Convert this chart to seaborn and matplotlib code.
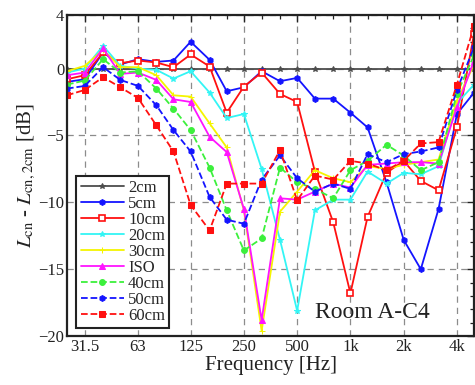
import matplotlib
matplotlib.use('Agg')
import matplotlib.pyplot as plt
import seaborn as sns
import numpy as np
import pandas as pd
from matplotlib.ticker import FixedLocator, FixedFormatter, NullFormatter

sns.set_theme(style='white')
plt.rcParams['font.family'] = ['Liberation Serif', 'DejaVu Serif']
plt.rcParams['mathtext.fontset'] = 'stix'

freqs = [25, 31.5, 40, 50, 63, 80, 100, 125, 160, 200, 250, 315, 400, 500,
         630, 800, 1000, 1250, 1600, 2000, 2500, 3150, 4000, 5000]

tick_freqs = [31.5, 63, 125, 250, 500, 1000, 2000, 4000]
tick_labels = ['31.5', '63', '125', '250', '500', '1k', '2k', '4k']
ytick_vals = [-20, -15, -10, -5, 0, 4]

series_names = ['2cm', '5cm', '10cm', '20cm', '30cm', 'ISO', '40cm', '50cm', '60cm']

v_2cm = [0.0] * 24
v_5cm = [-1.0, -0.8, 1.2, 0.3, 0.7, 0.5, 0.6, 2.0, 0.65, -1.7, -1.4, -0.2,
         -0.95, -0.7, -2.25, -2.25, -3.3, -4.4, -8.5, -12.8, -15.0, -10.5, -3.4, -1.8]
v_10cm = [-0.8, -0.5, 1.2, 0.4, 0.6, 0.45, 0.1, 1.05, 0.15, -3.3, -1.35, -0.3,
          -1.9, -2.5, -7.7, -11.5, -16.8, -11.1, -7.8, -6.9, -8.4, -9.1, -4.4, 2.6]
v_20cm = [-0.3, 0.0, 1.7, 0.2, 0.0, -0.1, -0.75, -0.2, -1.8, -3.7, -3.4, -7.5,
          -12.8, -18.1, -10.6, -9.8, -9.8, -7.7, -8.6, -7.8, -7.9, -7.3, -2.6, -1.2]
v_30cm = [-0.2, 0.2, 1.4, 0.1, 0.1, -0.5, -2.0, -2.1, -4.1, -5.9, -10.6, -19.6,
          -10.7, -9.2, -7.6, -8.2, -8.5, -7.3, -7.5, -7.2, -7.0, -6.8, -2.4, 0.3]
v_iso = [-0.5, -0.3, 1.5, -0.4, -0.3, -0.85, -2.3, -2.5, -5.1, -6.25, -10.5, -18.8,
         -9.7, -9.8, -9.2, -8.6, -8.9, -7.2, -7.1, -7.0, -7.0, -7.1, -2.9, 0.6]
v_40cm = [-1.2, -0.9, 0.7, -0.3, -0.2, -1.5, -3.0, -4.6, -7.4, -10.6, -13.6, -12.7,
          -7.4, -8.5, -9.0, -9.7, -7.6, -6.9, -5.7, -6.5, -7.6, -7.0, -1.9, 1.0]
v_50cm = [-1.5, -1.3, 0.1, -0.85, -1.3, -2.75, -4.6, -6.2, -9.6, -11.3, -11.6, -8.3,
          -6.5, -8.2, -9.2, -8.6, -9.0, -6.4, -7.0, -6.4, -6.2, -5.9, -1.6, 1.6]
v_60cm = [-2.0, -1.6, -0.65, -1.4, -2.2, -4.25, -6.2, -10.2, -12.1, -8.6, -8.6, -8.6,
          -6.1, -9.85, -8.0, -8.3, -6.9, -7.1, -7.6, -6.9, -5.6, -5.5, -1.2, 3.2]

values = [v_2cm, v_5cm, v_10cm, v_20cm, v_30cm, v_iso, v_40cm, v_50cm, v_60cm]

styles = {
    '2cm':  dict(color='#4d4d4d', ls='-',  marker='*', mfc=None),
    '5cm':  dict(color='#1414ff', ls='-',  marker='h', mfc=None),
    '10cm': dict(color='#ff1010', ls='-',  marker='s', mfc='white'),
    '20cm': dict(color='#33f5f5', ls='-',  marker='*', mfc=None),
    '30cm': dict(color='#f5f500', ls='-',  marker='+', mfc=None),
    'ISO':  dict(color='#ff14ff', ls='-',  marker='^', mfc=None),
    '40cm': dict(color='#3cf03c', ls='--', marker='o', mfc=None),
    '50cm': dict(color='#1414ff', ls='--', marker='h', mfc=None),
    '60cm': dict(color='#ff1010', ls='--', marker='s', mfc=None),
}

fig = plt.figure(figsize=(4.75, 3.85), dpi=100)
ax = fig.add_axes([0.141, 0.127, 0.857, 0.834])

for name, vals in zip(series_names, values):
    st = styles[name]
    sns.lineplot(x=freqs, y=vals, ax=ax, color=st['color'], linestyle=st['ls'],
                 marker=st['marker'], markersize=4.2, linewidth=1.3,
                 label=name, markeredgecolor=st['color'])
    line = ax.get_lines()[-1]
    line.set_linestyle(st['ls'])
    if st['mfc'] is not None:
        line.set_markerfacecolor(st['mfc'])
        line.set_markeredgewidth(1.2)
    else:
        line.set_markerfacecolor(st['color'])

ax.set_xscale('log')
ax.set_xlim(25, 5000)
ax.set_ylim(-20, 4)

ax.xaxis.set_major_locator(FixedLocator(tick_freqs))
ax.xaxis.set_major_formatter(FixedFormatter(tick_labels))
ax.xaxis.set_minor_locator(FixedLocator(freqs))
ax.xaxis.set_minor_formatter(NullFormatter())
ax.yaxis.set_major_locator(FixedLocator(ytick_vals))
ax.yaxis.set_minor_locator(FixedLocator(list(range(-20, 5))))

ax.tick_params(which='both', direction='in', top=True, right=True,
               labelsize=12, colors='#222222', pad=2)
ax.tick_params(which='major', length=5, width=1.0)
ax.tick_params(which='minor', length=3, width=0.9)

ax.grid(True, which='major', linestyle=(0, (5, 4)), color='#8c8c8c', linewidth=0.9)

for s in ax.spines.values():
    s.set_color('#222222')
    s.set_linewidth(1.6)

ax.set_xlabel('Frequency [Hz]', fontsize=15, labelpad=1, color='#222222')
ax.set_ylabel(r'$L_{\rm cn}$ - $L_{\rm cn,2cm}$ [dB]', fontsize=15, labelpad=0, color='#222222')

ax.text(0.75, 0.075, 'Room A-C4', transform=ax.transAxes, fontsize=17,
        ha='center', va='center', color='#222222')

leg = ax.legend(loc='lower left', bbox_to_anchor=(0.015, 0.015), fontsize=12,
                frameon=True, fancybox=False, framealpha=1, edgecolor='#222222',
                handlelength=2.6, handletextpad=0.25, labelspacing=0.0,
                borderpad=0.25, borderaxespad=0.2)
leg.get_frame().set_linewidth(1.5)

fig.savefig('out.png', dpi=100, facecolor='white')
